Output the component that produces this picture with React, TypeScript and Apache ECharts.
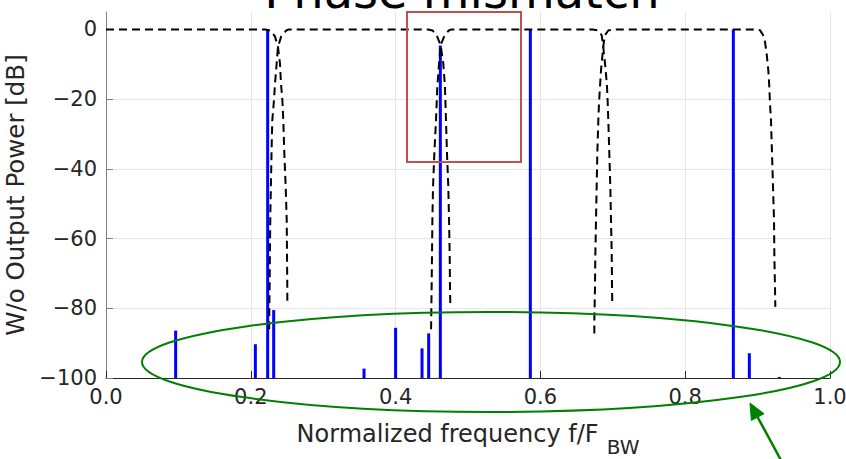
import React, { useEffect, useRef } from 'react';
import * as echarts from 'echarts';

// Axis ticks
const xTickValues = [0, 0.2, 0.4, 0.6, 0.8, 1.0];
const yTickValues = [-100, -80, -60, -40, -20, 0];

// Blue stems: normalized frequency and output power [dB]
const stemFreq = [0.0962, 0.2063, 0.2233, 0.2316, 0.3564, 0.4, 0.4365, 0.4457, 0.4618, 0.5861, 0.8665, 0.8886, 0.93];
const stemDb = [-86.4, -90.3, 0, -80.5, -97.3, -85.6, -91.5, -87.2, -4.6, 0, 0, -92.9, -99.7];

// Dashed filter responses [f, dB]
const filter1 = [
  [0, 0], [0.22, 0], [0.2265, -0.3], [0.2334, -2], [0.2375, -5], [0.2403, -9.8], [0.2417, -15.6],
  [0.2436, -20.3], [0.2449, -26.1], [0.2463, -35.6], [0.2482, -45.2], [0.2496, -54.7], [0.25, -64.3],
  [0.2504, -73.8], [0.2505, -78.6],
];
const filter2 = [
  [0.2254, -86], [0.2256, -79.6], [0.2261, -71.9], [0.2265, -62.4], [0.227, -52.8], [0.2279, -43.3],
  [0.2288, -33.7], [0.2297, -26.1], [0.232, -20.3], [0.2334, -15.6], [0.2357, -9.8], [0.2375, -5],
  [0.242, -2], [0.249, -0.3], [0.2525, 0], [0.445, 0], [0.451, -0.3], [0.4567, -1.7], [0.4622, -4.5],
  [0.4659, -9.8], [0.4682, -16.5], [0.4696, -26.1], [0.471, -35.6], [0.4728, -45.2], [0.4738, -54.7],
  [0.4747, -64.3], [0.4751, -73.8], [0.4756, -79.6],
];
const filter3 = [
  [0.449, -86], [0.4494, -79.6], [0.4498, -73.8], [0.4503, -64.3], [0.4508, -54.7], [0.4517, -45.2],
  [0.4535, -35.6], [0.4558, -26.1], [0.4576, -16.5], [0.46, -9.8], [0.4622, -4.5], [0.4677, -1.7],
  [0.4735, -0.3], [0.4775, 0], [0.672, 0], [0.68, -0.3], [0.6847, -1.7], [0.6868, -5], [0.6902, -11.7],
  [0.692, -16.5], [0.693, -21.3], [0.6938, -26.1], [0.6952, -35.6], [0.6966, -45.2], [0.6975, -54.7],
  [0.6985, -64.3], [0.6989, -73.8], [0.6993, -78.6],
];
const filter4 = [
  [0.6745, -87.2], [0.6745, -83.4], [0.6754, -73.8], [0.6759, -64.3], [0.6768, -54.7], [0.6777, -45.2],
  [0.6786, -35.6], [0.68, -26.1], [0.6809, -21.3], [0.6823, -16.5], [0.6837, -11.7], [0.6868, -5],
  [0.689, -1.7], [0.6937, -0.3], [0.7, 0], [0.897, 0], [0.9033, -0.2], [0.9093, -2.2], [0.9125, -7],
  [0.9148, -11.7], [0.9162, -16.5], [0.9171, -21.3], [0.9185, -26.1], [0.9199, -35.6], [0.9213, -45.2],
  [0.9227, -54.7], [0.9231, -64.3], [0.924, -73.8], [0.9245, -79.6],
];

const FONT = '"DejaVu Sans", sans-serif';
const TXT = '#262626';

export default function App() {
  const ref = useRef<HTMLDivElement>(null);

  useEffect(() => {
    const chart = echarts.init(ref.current as HTMLDivElement, null, { renderer: 'svg' });

    const dashed = (name: string, data: number[][]) => ({
      type: 'line',
      name,
      data,
      showSymbol: false,
      symbol: 'none',
      silent: true,
      z: 4,
      lineStyle: { color: '#000000', width: 2, type: [8, 5] },
    });

    const stems = stemFreq.map((f, i) => [f, stemDb[i]]);

    chart.setOption({
      animation: false,
      backgroundColor: '#ffffff',
      grid: { left: 106, right: 16, top: 12, bottom: 81, containLabel: false, outerBoundsMode: 'none' },
      xAxis: {
        type: 'value',
        min: 0,
        max: 1,
        interval: 0.2,
        name: '{m|Normalized frequency f/F}{s|BW}',
        nameLocation: 'middle',
        nameGap: 44,
        nameTextStyle: {
          color: TXT,
          fontFamily: FONT,
          fontSize: 24,
          rich: {
            m: { fontFamily: FONT, fontSize: 24, color: TXT, verticalAlign: 'top', lineHeight: 28 },
            s: { fontFamily: FONT, fontSize: 20, color: TXT, verticalAlign: 'top', lineHeight: 22, padding: [15, 0, 0, 8] },
          },
        },
        axisLine: { show: true, onZero: false, lineStyle: { color: '#262626', width: 1 } },
        axisTick: { show: true, inside: true, length: 7, lineStyle: { color: '#262626' }, customValues: xTickValues },
        axisLabel: {
          customValues: xTickValues,
          formatter: (v: number) => v.toFixed(1),
          color: TXT,
          fontFamily: FONT,
          fontSize: 21,
          margin: 8,
        },
        splitLine: { show: true, lineStyle: { color: '#e6e6e6', width: 1 } },
      },
      yAxis: {
        type: 'value',
        min: -100,
        max: 5,
        interval: 20,
        name: 'W/o Output Power [dB]',
        nameLocation: 'middle',
        nameGap: 53,
        nameTextStyle: { color: TXT, fontFamily: FONT, fontSize: 24.5 },
        axisLine: { show: true, onZero: false, lineStyle: { color: '#808080', width: 1 } },
        axisTick: { show: true, inside: true, length: 7, lineStyle: { color: '#808080' }, customValues: yTickValues },
        axisLabel: {
          customValues: yTickValues,
          formatter: (v: number) => (v === 0 ? '0' : '\u2212' + Math.abs(v)),
          color: TXT,
          fontFamily: FONT,
          fontSize: 21,
          margin: 9,
        },
        splitLine: { show: true, showMaxLine: false, lineStyle: { color: '#e6e6e6', width: 1 } },
      },
      series: [
        {
          type: 'custom',
          name: 'stems',
          data: stems,
          z: 3,
          silent: true,
          encode: { x: 0, y: 1 },
          renderItem: (params: any, api: any) => {
            const top = api.coord([api.value(0), api.value(1)]);
            const bot = api.coord([api.value(0), -100]);
            return {
              type: 'line',
              shape: { x1: top[0], y1: top[1], x2: bot[0], y2: bot[1] },
              style: { stroke: '#0000ff', lineWidth: 3, lineCap: 'butt' },
            };
          },
        },
        dashed('filter1', filter1),
        dashed('filter2', filter2),
        dashed('filter3', filter3),
        dashed('filter4', filter4),
      ],
      graphic: [
        {
          type: 'text',
          x: 462,
          y: -9,
          z: 10,
          style: {
            text: 'Phase mismatch',
            fontFamily: FONT,
            fontSize: 48,
            fill: '#000000',
            align: 'center',
            verticalAlign: 'middle',
          },
        },
        {
          type: 'rect',
          z: 10,
          shape: { x: 407, y: 12, width: 114, height: 150 },
          style: { fill: 'none', stroke: '#c0504d', lineWidth: 2 },
        },
        {
          type: 'ellipse',
          z: 10,
          shape: { cx: 491, cy: 362, rx: 349, ry: 50 },
          style: { fill: 'none', stroke: '#008000', lineWidth: 2 },
        },
        {
          type: 'line',
          z: 10,
          shape: { x1: 757, y1: 416, x2: 782, y2: 462 },
          style: { stroke: '#008000', lineWidth: 2.5 },
        },
        {
          type: 'polygon',
          z: 10,
          shape: { points: [[750, 403], [764, 413.8], [751.4, 420.4]] },
          style: { fill: '#008000', stroke: '#008000', lineWidth: 1 },
        },
      ],
    });

    return () => chart.dispose();
  }, []);

  return (
    <div
      ref={ref}
      style={{ position: 'absolute', left: 0, top: 0, width: 846, height: 459, background: '#fff' }}
    />
  );
}
